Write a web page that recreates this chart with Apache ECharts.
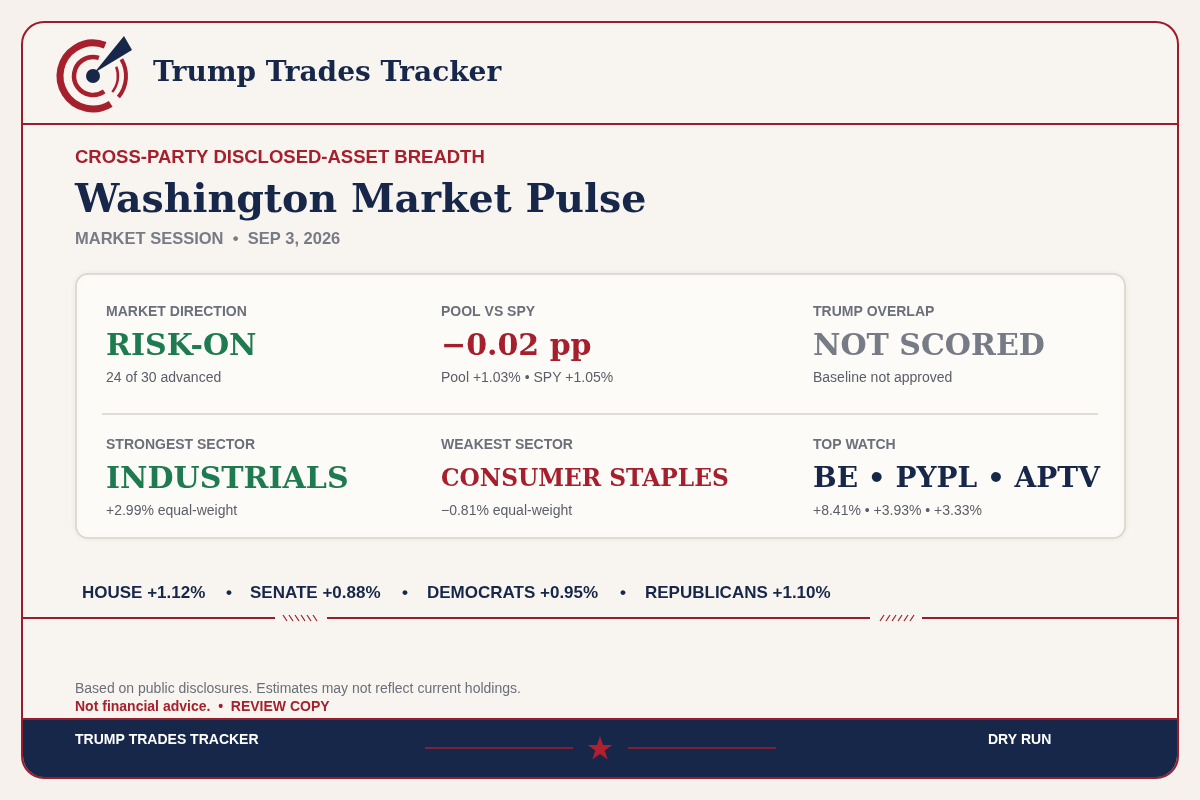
<!DOCTYPE html>
<html><head><meta charset="utf-8">
<script src="https://cdn.jsdelivr.net/npm/echarts@6/dist/echarts.min.js"></script>
<style>html,body{margin:0;padding:0;background:#f6f1ec}#c{width:1200px;height:800px}</style>
</head><body><div id="c"></div>
<script>
const brand = "Trump Trades Tracker";
const kicker = "CROSS-PARTY DISCLOSED-ASSET BREADTH";
const title = "Washington Market Pulse";
const session = "MARKET SESSION  •  SEP 3, 2026";
const kpiLabels = ["MARKET DIRECTION","POOL VS SPY","TRUMP OVERLAP","STRONGEST SECTOR","WEAKEST SECTOR","TOP WATCH"];
const kpiValues = ["RISK-ON","\u22120.02 pp","NOT SCORED","INDUSTRIALS","CONSUMER STAPLES","BE • PYPL • APTV"];
const kpiSubs = ["24 of 30 advanced","Pool +1.03% • SPY +1.05%","Baseline not approved","+2.99% equal-weight","\u22120.81% equal-weight","+8.41% • +3.93% • +3.33%"];
const kpiTones = ["green","red","gray","green","red","navy"];
const groups = ["HOUSE +1.12%","SENATE +0.88%","DEMOCRATS +0.95%","REPUBLICANS +1.10%"];
const disclaimer = "Based on public disclosures. Estimates may not reflect current holdings.";
const footLeft = "TRUMP TRADES TRACKER", footRight = "DRY RUN";

const C = {green:"#1e7a4f",red:"#a51f2d",gray:"#767b86",navy:"#17274a"};
const SERIF = "'DejaVu Serif', Georgia, serif", SANS = "'Liberation Sans', Arial, sans-serif";
const g = [];
g.push({type:'rect',shape:{x:22,y:22,width:1156,height:756,r:22},style:{fill:'#f8f4ef',stroke:'#9b1c2c',lineWidth:2}});
g.push({type:'rect',shape:{x:23,y:719,width:1154,height:58,r:[0,0,21,21]},style:{fill:'#17274a'}});
g.push({type:'line',shape:{x1:23,y1:719,x2:1177,y2:719},style:{stroke:'#9b1c2c',lineWidth:2}});
g.push({type:'line',shape:{x1:23,y1:124,x2:1177,y2:124},style:{stroke:'#9b1c2c',lineWidth:2}});
// logo
const cx=93, cy=76, P=Math.PI;
const arc=(r,s,e,w)=>g.push({type:'arc',shape:{cx,cy,r,startAngle:s*P,endAngle:e*P,clockwise:true},style:{stroke:'#a51f2d',lineWidth:w,fill:null,lineCap:'butt'}});
arc(33,0.32,1.62,7);
arc(33,-0.17,0.22,4);
arc(19,0.3,1.6,4.5);
arc(25,-0.12,0.22,2.5);
g.push({type:'circle',shape:{cx,cy,r:7},style:{fill:'#17274a'}});
g.push({type:'polygon',shape:{points:[[cx+1,cy-3],[cx+31,cy-40],[cx+39,cy-26]]},style:{fill:'#17274a'}});
g.push({type:'text',left:153,top:60,style:{text:brand,font:"bold 28px "+SERIF,fill:'#17274a'}});
// headings
g.push({type:'text',left:75,top:148,style:{text:kicker,font:"bold 18.5px "+SANS,fill:'#a51f2d'}});
g.push({type:'text',left:75,top:182,style:{text:title,font:"bold 39.5px "+SERIF,fill:'#17274a'}});
g.push({type:'text',left:75,top:231,style:{text:session,font:"bold 16.5px "+SANS,fill:'#767b86'}});
// panel
g.push({type:'rect',shape:{x:76,y:274,width:1049,height:264,r:12},style:{fill:'#fdfbf7',stroke:'#d8d2ca',lineWidth:1.5,shadowBlur:6,shadowColor:'rgba(0,0,0,0.06)'}});
g.push({type:'line',shape:{x1:102,y1:414,x2:1098,y2:414},style:{stroke:'#d8d2ca',lineWidth:1.5}});
const colX=[106,441,813], rowY=[305,438];
const vSize=[30,30,30,30,23.3,28];
kpiLabels.forEach((l,i)=>{
  const x=colX[i%3], y=rowY[Math.floor(i/3)];
  g.push({type:'text',left:x,top:y,style:{text:l,font:"bold 14px "+SANS,fill:'#6b6f7a'}});
  g.push({type:'text',left:x,top:y+27+(30-vSize[i])*0.5,style:{text:kpiValues[i],font:"bold "+vSize[i]+"px "+SERIF,fill:C[kpiTones[i]]}});
  g.push({type:'text',left:x,top:y+66,style:{text:kpiSubs[i],font:"14px "+SANS,fill:'#5a5e68'}});
});
// groups line
const gX=[82,250,427,645], bX=[226,402,620];
groups.forEach((t,i)=>g.push({type:'text',left:gX[i],top:585,style:{text:t,font:"bold 17px "+SANS,fill:'#17274a'}}));
bX.forEach(x=>g.push({type:'text',left:x,top:585,style:{text:'•',font:"bold 17px "+SANS,fill:'#17274a'}}));
// section line with hatches
[[23,275],[327,870],[922,1177]].forEach(s=>g.push({type:'line',shape:{x1:s[0],y1:618,x2:s[1],y2:618},style:{stroke:'#9b1c2c',lineWidth:2}}));
for(let k=0;k<6;k++){
  g.push({type:'line',shape:{x1:283+k*6,y1:615,x2:287+k*6,y2:621},style:{stroke:'#9b1c2c',lineWidth:1.2}});
  g.push({type:'line',shape:{x1:880+k*6,y1:621,x2:884+k*6,y2:615},style:{stroke:'#9b1c2c',lineWidth:1.2}});
}
g.push({type:'text',left:75,top:682,style:{text:disclaimer,font:"14px "+SANS,fill:'#6b6f7a'}});
g.push({type:'text',left:75,top:700,style:{text:'Not financial advice.  •  REVIEW COPY',font:"bold 14px "+SANS,fill:'#a51f2d'}});
// footer
g.push({type:'text',left:75,top:733,style:{text:footLeft,font:"bold 14px "+SANS,fill:'#ffffff'}});
g.push({type:'text',left:988,top:733,style:{text:footRight,font:"bold 14px "+SANS,fill:'#ffffff'}});
g.push({type:'line',shape:{x1:425,y1:748,x2:573,y2:748},style:{stroke:'#a51f2d',lineWidth:1.5}});
g.push({type:'line',shape:{x1:628,y1:748,x2:776,y2:748},style:{stroke:'#a51f2d',lineWidth:1.5}});
const star=[];for(let k=0;k<10;k++){const a=-P/2+k*P/5,r=k%2?5:13;star.push([600+r*Math.cos(a),749+r*Math.sin(a)]);}
g.push({type:'polygon',shape:{points:star},style:{fill:'#b0202e'}});
const chart=echarts.init(document.getElementById('c'));
chart.setOption({backgroundColor:'#f6f1ec',graphic:{elements:g}});
</script></body></html>
